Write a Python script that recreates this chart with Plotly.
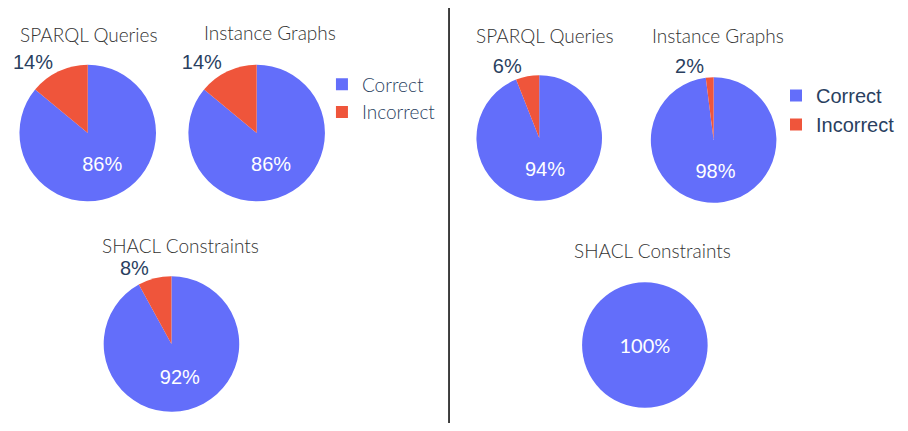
import plotly.graph_objects as go

OFF = 8  # page body margin
W, H = 908 - 2 * OFF, 431 - 2 * OFF

labels = ["Correct", "Incorrect"]
left_titles = ["SPARQL Queries", "Instance Graphs", "SHACL Constraints"]
left_values = [[86, 14], [86, 14], [92, 8]]
right_titles = ["SPARQL Queries", "Instance Graphs", "SHACL Constraints"]
right_values = [[94, 6], [98, 2], [100, 0]]

colors = ["#636efa", "#EF553B"]


def px(x):
    return (x - OFF) / W


def py(y):
    return (H - (y - OFF)) / H


def dom(cx, cy, r):
    return dict(x=[px(cx - r), px(cx + r)], y=[py(cy + r), py(cy - r)])


left_geo = [(85, 133, 68.5), (254.5, 133, 68.5), (169, 344, 68)]
right_geo = [(538, 138, 63), (713, 140, 63), (644, 345, 63)]
left_title_pos = [(86, 34), (268, 33), (178, 245)]
right_title_pos = [(544, 36), (717, 36), (652, 250)]


def add_pies(fig, values_list, geo, legend_id, group):
    for i, (vals, g) in enumerate(zip(values_list, geo)):
        pairs = [(l, v, c) for l, v, c in zip(labels, vals, colors) if v > 0]
        full = len(pairs) == 1
        fam = "Lato" if full else "Liberation Sans, Arial"
        fig.add_trace(go.Pie(
            labels=[p[0] for p in pairs], values=[p[1] for p in pairs],
            domain=dom(*g), sort=False,
            marker=dict(colors=[p[2] for p in pairs]), textinfo="percent",
            textposition=["inside", "outside"][:len(pairs)],
            insidetextfont=dict(family=fam, size=20, color="white"),
            outsidetextfont=dict(family="Liberation Sans, Arial", size=20, color="#2a3f5f"),
            legend=legend_id, legendgroup=group, showlegend=(i == 0),
            hoverinfo="label+percent",
        ))


fig = go.Figure()
add_pies(fig, left_values, left_geo, "legend", "left")
add_pies(fig, right_values, right_geo, "legend2", "right")

annotations = []
for t, (x, y) in zip(left_titles + right_titles, left_title_pos + right_title_pos):
    annotations.append(dict(text=t, x=px(x), y=py(y), xref="paper", yref="paper",
                            showarrow=False, xanchor="center", yanchor="middle",
                            font=dict(family="Lato", size=19, color="#333333", weight=300)))

fig.update_layout(
    width=W, height=H, margin=dict(l=0, r=0, t=0, b=0),
    paper_bgcolor="white", plot_bgcolor="white",
    annotations=annotations,
    legend=dict(x=px(320), y=py(65.5), xanchor="left", yanchor="top",
                font=dict(family="Lato", size=19, color="#2a3f5f", weight=300),
                bgcolor="rgba(0,0,0,0)"),
    legend2=dict(x=1, y=py(76), xanchor="right", yanchor="top",
                 font=dict(family="Liberation Sans, Arial", size=20, color="#2a3f5f"),
                 bgcolor="rgba(0,0,0,0)"),
    shapes=[dict(type="line", xref="paper", yref="paper", x0=px(447.5), x1=px(447.5),
                 y0=0, y1=1, line=dict(color="black", width=1.5))],
)

fig.write_html("out.html")
